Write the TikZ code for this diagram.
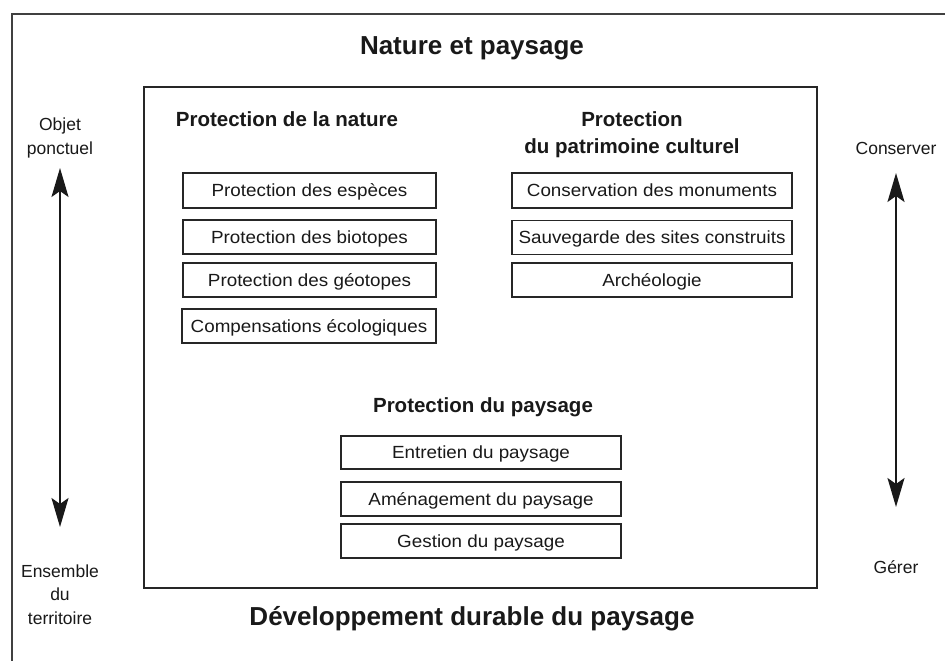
\documentclass[tikz,border=0pt]{standalone}
\usepackage{fontspec}
\setmainfont{Liberation Sans}
\newfontfamily\boxfont{Liberation Sans}[FakeStretch=1.07]
\usetikzlibrary{arrows.meta}
\begin{document}
\begin{tikzpicture}[x=1pt,y=-1pt,
  every node/.style={inner sep=0pt, outer sep=0pt, text=black!90},
  boxtxt/.style={draw=black!85, line width=1.1pt, fill=white, font=\boxfont\fontsize{17.6}{20}\selectfont, text height=12.6pt, text depth=0pt, anchor=center},
  subttl/.style={font=\fontsize{20.5}{27}\selectfont\bfseries, align=center, text height=14.7pt, text depth=0pt},
  bigttl/.style={font=\fontsize{26}{30}\selectfont\bfseries, text height=18.6pt, text depth=0pt},
  sidelbl/.style={font=\fontsize{17.5}{23.5}\selectfont, align=center, text height=12.5pt, text depth=0pt},
  dblarrow/.style={line width=2pt, black!90, {Stealth[length=29pt,width=17pt,inset=6pt]}-{Stealth[length=29pt,width=17pt,inset=6pt]}}
]
\useasboundingbox (0,0) rectangle (945,661);
\fill[white] (0,0) rectangle (945,661);
% outer frame (open on right and bottom)
\draw[line width=2pt, black!75] (12,661) -- (12,14) -- (945,14);
% inner frame
\node[draw=black!85, line width=1.5pt, minimum width=673pt, minimum height=501pt] (inner) at (480.5,337.5) {};
% titles
\node[bigttl] (title) at (472,45.5) {Nature et paysage};
\node[bigttl] (bottom) at (472,616) {Développement durable du paysage};
% subtitles (multi-line nodes are placed by their last line)
\node[subttl] (pnat) at (287,119) {Protection de la nature};
\node[subttl] (ppat) at (632,146) {Protection\\du patrimoine culturel};
\node[subttl] (ppay) at (483,405) {Protection du paysage};
% left column
\node[boxtxt, minimum width=253pt, minimum height=35pt] (n1) at (309.5,190.5) {Protection des espèces};
\node[boxtxt, minimum width=253pt, minimum height=34pt] (n2) at (309.5,237) {Protection des biotopes};
\node[boxtxt, minimum width=253pt, minimum height=34pt] (n3) at (309.5,280) {Protection des géotopes};
\node[boxtxt, minimum width=254pt, minimum height=34pt] (n4) at (309,326) {Compensations écologiques};
% right column
\node[boxtxt, minimum width=280pt, minimum height=35pt] (c1) at (652,190.5) {Conservation des monuments};
\node[boxtxt, minimum width=280pt, minimum height=34pt] (c2) at (652,237.5) {Sauvegarde des sites construits};
\node[boxtxt, minimum width=280pt, minimum height=34pt] (c3) at (652,280) {Archéologie};
% bottom column
\node[boxtxt, minimum width=280pt, minimum height=33pt] (p1) at (481,452.5) {Entretien du paysage};
\node[boxtxt, minimum width=280pt, minimum height=34pt] (p2) at (481,499) {Aménagement du paysage};
\node[boxtxt, minimum width=280pt, minimum height=34pt] (p3) at (481,541) {Gestion du paysage};
% side labels
\node[sidelbl] (obj) at (60,148) {Objet\\ponctuel};
\node[sidelbl] (ens) at (60,618) {Ensemble\\du\\territoire};
\node[sidelbl] (cons) at (896,148) {Conserver};
\node[sidelbl] (ger) at (896,567) {Gérer};
% arrows
\coordinate (la) at (60,168);
\coordinate (lb) at (60,527);
\coordinate (ra) at (896,173);
\coordinate (rb) at (896,507);
\draw[dblarrow] (la) -- (lb);
\draw[dblarrow] (ra) -- (rb);
\end{tikzpicture}
\end{document}
